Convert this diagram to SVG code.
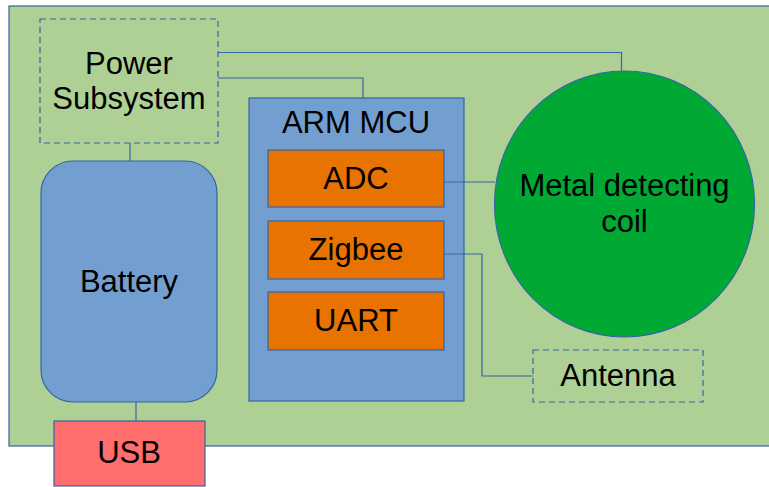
<svg xmlns="http://www.w3.org/2000/svg" width="769" height="487" viewBox="0 0 769 487">
  <style>
    .board { fill: #afd095; stroke: #3465a4; stroke-width: 1.2; }
    .dash { fill: none; stroke: #3465a4; stroke-width: 1.2; stroke-dasharray: 6 4; }
    .blue { fill: #729fcf; stroke: #3465a4; stroke-width: 1.2; }
    .orange { fill: #e97300; stroke: #3465a4; stroke-width: 1.2; }
    .coil { fill: #00a933; stroke: #3465a4; stroke-width: 1.2; }
    .red { fill: #ff6d6d; stroke: #3465a4; stroke-width: 1.2; }
    .wire { fill: none; stroke: #3465a4; stroke-width: 1.2; }
    text { font-family: "Liberation Sans", Arial, sans-serif; font-size: 31px; fill: #000; text-anchor: middle; }
  </style>

  <!-- circuit board -->
  <rect class="board" x="9" y="6" width="770" height="440"/>

  <g id="power">
    <rect class="dash" x="40" y="19" width="178" height="124"/>
    <text x="129" y="74">Power</text>
    <text x="129" y="109">Subsystem</text>
  </g>

  <g id="battery">
    <rect class="blue" x="41" y="161" width="176" height="241" rx="32" ry="32"/>
    <text x="129" y="292">Battery</text>
  </g>

  <g id="usb">
    <rect class="red" x="54" y="421" width="151" height="65"/>
    <text x="129" y="463">USB</text>
  </g>

  <g id="mcu">
    <rect class="blue" x="249" y="98" width="215" height="303"/>
    <text x="356" y="133">ARM MCU</text>
  </g>

  <g id="adc">
    <rect class="orange" x="268" y="150" width="176" height="57"/>
    <text x="356" y="189">ADC</text>
  </g>

  <g id="zigbee">
    <rect class="orange" x="268" y="221" width="176" height="58"/>
    <text x="356" y="260">Zigbee</text>
  </g>

  <g id="uart">
    <rect class="orange" x="268" y="292" width="176" height="58"/>
    <text x="356" y="331">UART</text>
  </g>

  <g id="coil">
    <ellipse class="coil" cx="624.5" cy="204" rx="130" ry="133"/>
    <text x="624.5" y="196">Metal detecting</text>
    <text x="624.5" y="232">coil</text>
  </g>

  <g id="antenna">
    <rect class="dash" x="533" y="350" width="170" height="52"/>
    <text x="618" y="386">Antenna</text>
  </g>

  <!-- wiring, drawn over the MCU body -->
  <g id="connectors">
    <polyline class="wire" points="218,52.5 621.5,52.5 621.5,71"/>
    <polyline class="wire" points="218,78 363,78 363,98"/>
    <line class="wire" x1="130" y1="143" x2="130" y2="161"/>
    <line class="wire" x1="136" y1="402" x2="136" y2="421"/>
    <line class="wire" x1="444" y1="182" x2="495" y2="182"/>
    <polyline class="wire" points="444,254 482,254 482,376 533,376"/>
  </g>
</svg>
